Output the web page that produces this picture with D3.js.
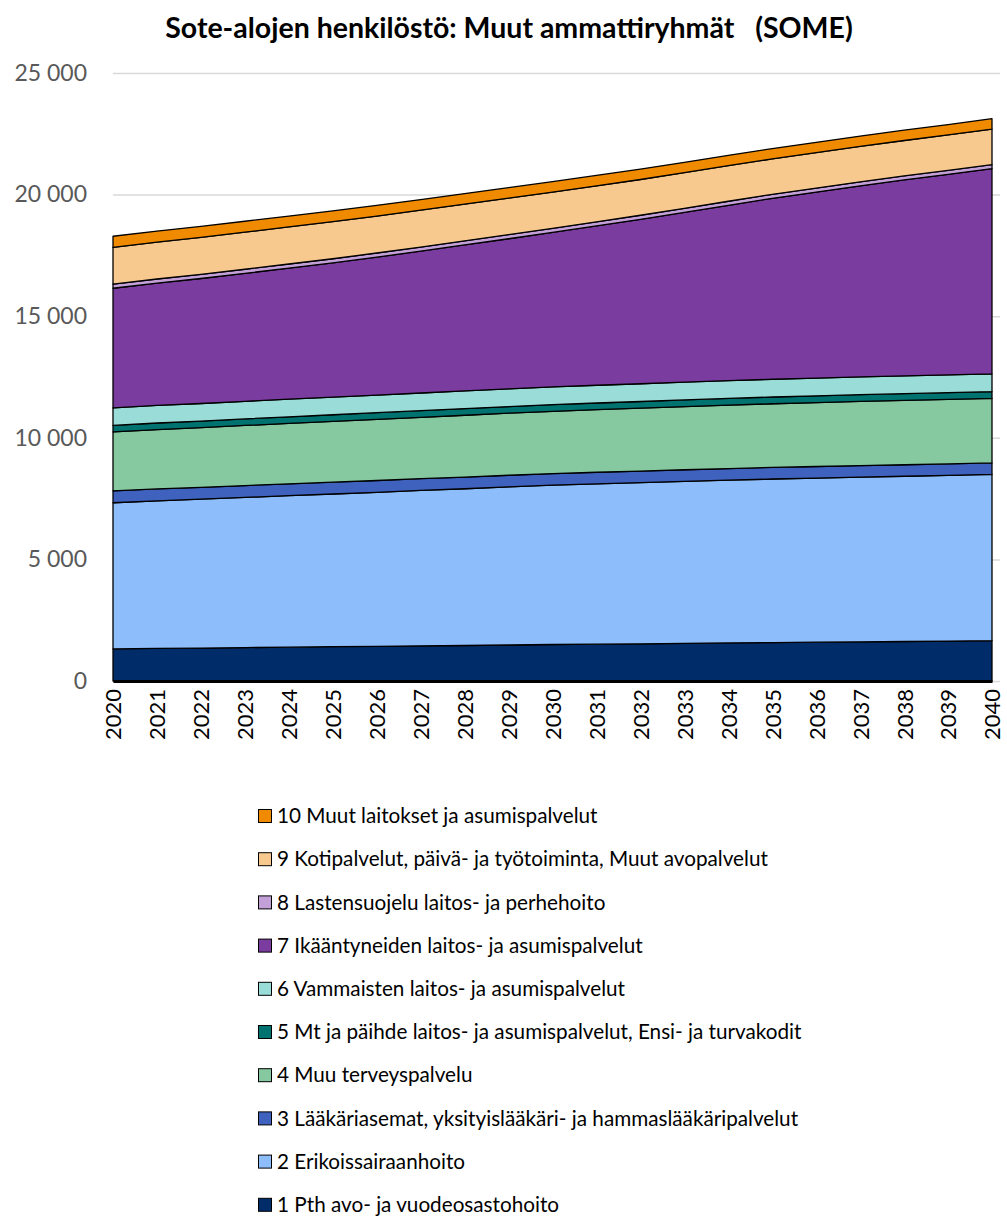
<!DOCTYPE html>
<html>
<head>
<meta charset="utf-8">
<script src="https://cdn.jsdelivr.net/npm/d3@7"></script>
<style>
  html, body { margin: 0; padding: 0; background: #fff; }
  svg { display: block; font-family: Lato, "Open Sans", sans-serif; }
</style>
</head>
<body>
<svg id="chart" width="1007" height="1222"></svg>
<script>
// Years on the x axis
const years = [2020, 2021, 2022, 2023, 2024, 2025, 2026, 2027, 2028, 2029, 2030,
               2031, 2032, 2033, 2034, 2035, 2036, 2037, 2038, 2039, 2040];

// Service areas, bottom of the stack first
const seriesNames = [
  "1 Pth avo- ja vuodeosastohoito",
  "2 Erikoissairaanhoito",
  "3 Lääkäriasemat, yksityislääkäri- ja hammaslääkäripalvelut",
  "4 Muu terveyspalvelu",
  "5 Mt ja päihde laitos- ja asumispalvelut, Ensi- ja turvakodit",
  "6 Vammaisten laitos- ja asumispalvelut",
  "7 Ikääntyneiden laitos- ja asumispalvelut",
  "8 Lastensuojelu laitos- ja perhehoito",
  "9 Kotipalvelut, päivä- ja työtoiminta, Muut avopalvelut",
  "10 Muut laitokset ja asumispalvelut"
];

// Staff counts per service area, 2020–2040
const s1  = [1320, 1340, 1355, 1375, 1390, 1410, 1425, 1445, 1460, 1480, 1500, 1515, 1530, 1550, 1565, 1580, 1595, 1610, 1625, 1640, 1660];
const s2  = [6010, 6070, 6120, 6175, 6230, 6280, 6335, 6390, 6445, 6500, 6550, 6590, 6625, 6660, 6695, 6725, 6750, 6775, 6795, 6815, 6835];
const s3  = [490, 489, 488, 487, 486, 485, 484, 483, 482, 481, 480, 479, 478, 477, 476, 475, 474, 473, 472, 471, 470];
const s4  = [2420, 2440, 2455, 2470, 2485, 2500, 2515, 2525, 2540, 2550, 2560, 2572, 2584, 2596, 2608, 2620, 2628, 2636, 2644, 2650, 2656];
const s5  = [270, 270, 271, 271, 272, 272, 273, 273, 274, 274, 275, 275, 276, 276, 277, 277, 278, 278, 279, 279, 280];
const s6  = [720, 721, 722, 723, 724, 725, 726, 727, 728, 729, 730, 730, 730, 730, 730, 730, 730, 730, 730, 730, 730];
const s7  = [4920, 5030, 5140, 5260, 5390, 5520, 5670, 5830, 6000, 6170, 6350, 6550, 6760, 6980, 7210, 7440, 7650, 7860, 8060, 8250, 8440];
const s8  = [170, 170, 170, 170, 170, 170, 170, 170, 170, 170, 170, 169, 168, 167, 166, 165, 164, 163, 162, 161, 160];
const s9  = [1510, 1515, 1520, 1525, 1525, 1525, 1520, 1515, 1510, 1500, 1490, 1480, 1470, 1465, 1460, 1455, 1455, 1455, 1458, 1460, 1464];
const s10 = [458, 455, 452, 449, 446, 443, 440, 437, 434, 431, 428, 428, 427, 427, 426, 426, 426, 425, 425, 425, 425];

const seriesValues = [s1, s2, s3, s4, s5, s6, s7, s8, s9, s10];

const colors = ["#002D6A", "#8EBDFC", "#3F62BE", "#86C9A0", "#00726F",
                "#9ADCD8", "#7A3C9F", "#C3A0D8", "#F8C98E", "#F08A00"];

const yTicks = [0, 5000, 10000, 15000, 20000, 25000];

const svg = d3.select("#chart");

const margin = { left: 113, right: 15, top: 73, bottom: 541 };
const plotW = 992 - margin.left;
const y0 = 681;

const x = d3.scaleLinear().domain([years[0], years[years.length - 1]]).range([margin.left, margin.left + plotW]);
const y = d3.scaleLinear().domain([0, 25000]).range([y0, margin.top]);

const fi = d3.formatLocale({ decimal: ",", thousands: "\u00a0", grouping: [3], currency: ["", ""] });
const fmt = fi.format(",d");

// Title
svg.append("text")
  .attr("x", 509).attr("y", 38)
  .attr("text-anchor", "middle")
  .attr("font-size", 28.5).attr("font-weight", 700)
  .attr("fill", "#000")
  .style("white-space", "pre")
  .text("Sote-alojen henkilöstö: Muut ammattiryhmät   (SOME)");

// Horizontal gridlines and y labels
const yAxis = svg.append("g")
  .attr("transform", `translate(${margin.left},0)`)
  .call(d3.axisLeft(y).tickValues(yTicks).tickSize(-(1000 - margin.left)).tickPadding(26).tickFormat(fmt));
yAxis.select(".domain").remove();
yAxis.selectAll(".tick line").attr("stroke", "#d9d9d9").attr("stroke-width", 1.5);
yAxis.selectAll(".tick text")
  .attr("font-size", 23).attr("fill", "#595959")
  .attr("font-family", "Lato, 'Open Sans', sans-serif");

// Stacked areas
const table = years.map((yr, i) => {
  const row = { year: yr };
  seriesNames.forEach((n, k) => { row[n] = seriesValues[k][i]; });
  return row;
});
const stacked = d3.stack().keys(seriesNames)(table);

const area = d3.area()
  .x(d => x(d.data.year))
  .y0(d => y(d[0]))
  .y1(d => y(d[1]));

svg.append("g").selectAll("path")
  .data(stacked)
  .join("path")
  .attr("d", area)
  .attr("fill", (d, i) => colors[i])
  .attr("stroke", "#000")
  .attr("stroke-width", 1.3)
  .attr("stroke-linejoin", "round");

// X axis
const xAxis = svg.append("g")
  .attr("transform", `translate(0,${y0})`)
  .call(d3.axisBottom(x).tickValues(years).tickSize(0).tickFormat(d3.format("d")));
xAxis.select(".domain").attr("stroke", "#000").attr("stroke-width", 3);
xAxis.selectAll(".tick text")
  .attr("font-size", 22).attr("fill", "#000")
  .attr("font-family", "Lato, 'Open Sans', sans-serif")
  .attr("text-anchor", "end")
  .attr("transform", "translate(0,8) rotate(-90)")
  .attr("x", 0).attr("y", 0).attr("dy", "0.36em");

// Legend, top item is the top of the stack
const legend = svg.append("g");
const order = seriesNames.map((n, i) => i).reverse();
order.forEach((k, j) => {
  const cy = 816 + j * 43.2;
  legend.append("rect")
    .attr("x", 258.5).attr("y", cy - 6.5)
    .attr("width", 13).attr("height", 13)
    .attr("fill", colors[k]).attr("stroke", "#000").attr("stroke-width", 1);
  legend.append("text")
    .attr("x", 277).attr("y", cy).attr("dy", "0.35em")
    .attr("font-size", 20.7).attr("fill", "#000")
    .text(seriesNames[k]);
});
</script>
</body>
</html>
